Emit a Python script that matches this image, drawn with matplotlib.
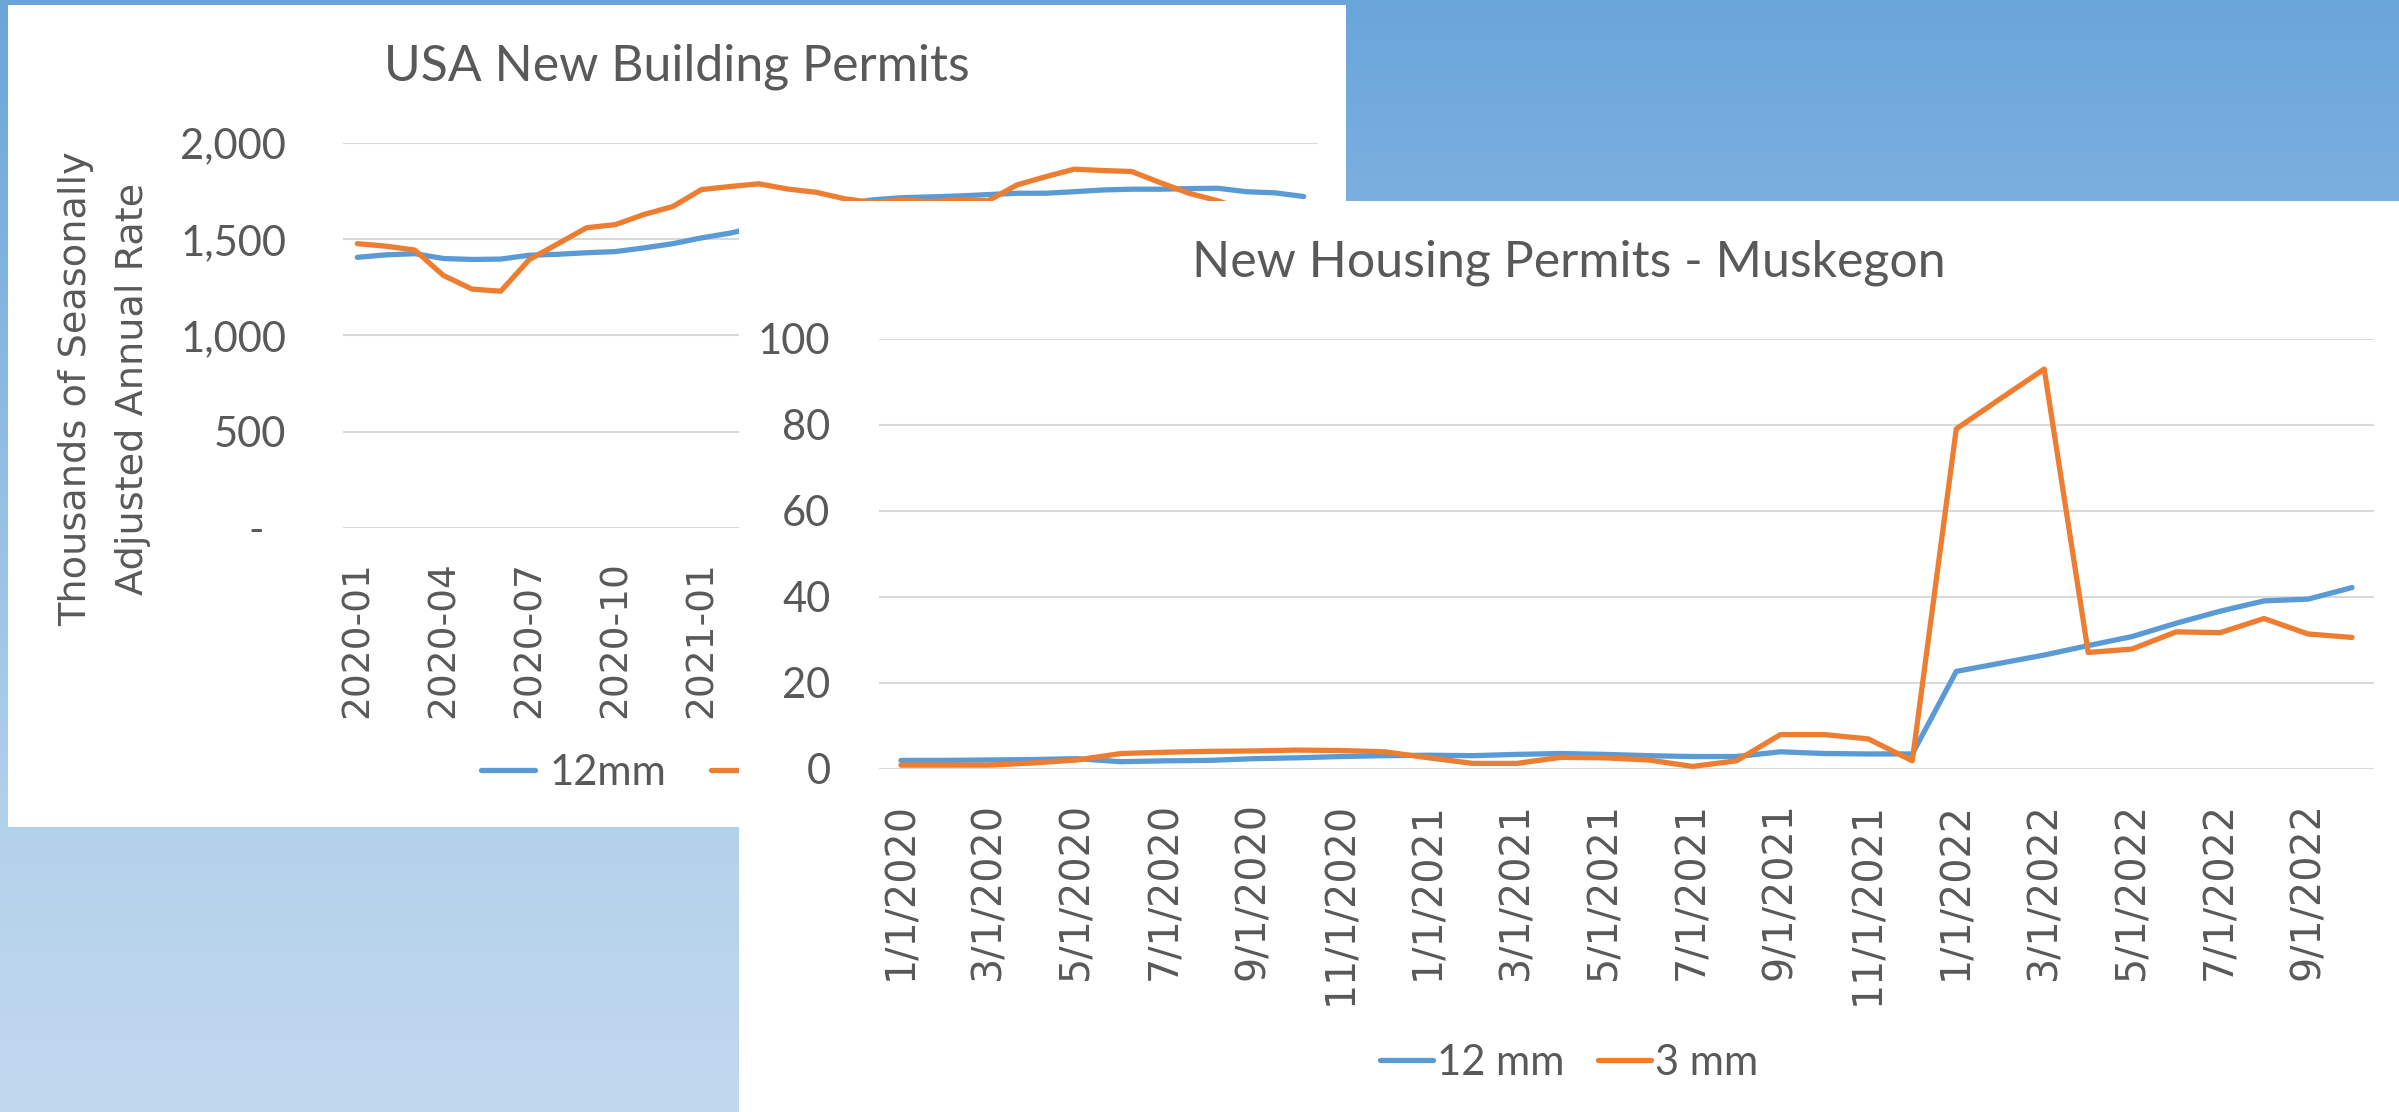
import matplotlib
matplotlib.use("Agg")
import matplotlib.pyplot as plt
from matplotlib.patches import Rectangle
import numpy as np
import pandas as pd

# months Jan 2020 .. Oct 2022
months = pd.date_range("2020-01-01", "2022-10-01", freq="MS")
us_labels = [f"{d.year}-{d.month:02d}" for d in months]
mk_labels = [f"{d.month}/1/{d.year}" for d in months]

# USA new building permits, thousands SAAR
us_12mm = [1406, 1419, 1425, 1400, 1395, 1397, 1417, 1422, 1430, 1436, 1455, 1477,
           1507, 1532, 1565, 1600, 1640, 1685, 1705, 1716, 1720, 1725, 1732, 1739,
           1739, 1747, 1756, 1760, 1760, 1763, 1765, 1747, 1741, 1722]
us_3mm = [1477, 1464, 1444, 1312, 1241, 1230, 1395, 1477, 1560, 1576, 1629, 1670,
          1758, 1774, 1788, 1761, 1744, 1710, 1690, 1705, 1695, 1705, 1700, 1782,
          1825, 1864, 1857, 1852, 1794, 1739, 1700, 1650, 1600, 1560]
us_yticks = [0, 500, 1000, 1500, 2000]
us_yticklabels = ["-  ", "500", "1,000", "1,500", "2,000"]
# only the first labels are visible, the rest sit under the Muskegon panel
us_visible_months = 13

# Muskegon new housing permits
mk_12mm = [2.0, 2.0, 2.1, 2.2, 2.4, 1.7, 1.9, 2.0, 2.4, 2.6, 2.9, 3.1,
           3.2, 3.1, 3.4, 3.6, 3.4, 3.1, 2.9, 2.9, 4.0, 3.6, 3.5, 3.5,
           22.7, 24.6, 26.5, 28.7, 30.8, 33.9, 36.7, 39.1, 39.5, 42.2]
mk_3mm = [0.9, 0.9, 0.9, 1.4, 2.1, 3.6, 3.9, 4.1, 4.2, 4.4, 4.3, 4.0,
          2.6, 1.3, 1.3, 2.7, 2.6, 2.1, 0.6, 1.9, 8.0, 8.0, 7.0, 1.9,
          79.1, 86.1, 93.0, 27.1, 27.9, 31.9, 31.7, 35.0, 31.4, 30.6]
mk_yticks = [0, 20, 40, 60, 80, 100]

BLUE = '#5B9BD5'
ORANGE = '#ED7D31'
GRID = '#D9D9D9'
TXT = '#595959'
W, H = 2399, 1112

def fx(x):
    return x / W

def fy(y):
    return 1 - y / H

fig = plt.figure(figsize=(W / 100, H / 100), dpi=100)

# gradient background
bg = fig.add_axes([0, 0, 1, 1], zorder=0)
bg.axis('off')
stops = [0, 0.18, 0.74, 1.0]
cols = np.array([[106, 165, 218], [123, 175, 223], [178, 209, 235], [194, 216, 239]]) / 255
t = np.linspace(0, 1, H)
grad = np.stack([np.interp(t, stops, cols[:, k]) for k in range(3)], axis=1)
bg.imshow(grad[:, None, :], aspect='auto', extent=[0, 1, 0, 1])

# white panels
fig.add_artist(Rectangle((fx(8), fy(827)), (1346 - 8) / W, (827 - 5) / H,
                         transform=fig.transFigure, fc='white', ec='none', zorder=1))
fig.add_artist(Rectangle((fx(739), 0), (W - 739) / W, (1112 - 201) / H,
                         transform=fig.transFigure, fc='white', ec='none', zorder=3))

def style_axes(ax, yticks, yticklabels, xlabels, step, ypad, xsize, nlab=None):
    ax.set_facecolor('none')
    for s in ax.spines.values():
        s.set_visible(False)
    ax.set_xlim(-0.5, len(xlabels) - 0.5)
    ax.set_ylim(yticks[0], yticks[-1])
    ax.set_yticks(yticks)
    ax.set_yticklabels(yticklabels, family='Lato', fontsize=30, color=TXT)
    idx = list(range(0, nlab or len(xlabels), step))
    ax.set_xticks(idx)
    ax.set_xticklabels([xlabels[i] for i in idx], rotation=90, family='DejaVu Sans',
                       fontsize=xsize, color=TXT)
    ax.tick_params(axis='both', length=0)
    ax.tick_params(axis='y', pad=ypad)
    ax.tick_params(axis='x', pad=24)
    ax.yaxis.grid(True, color=GRID, linewidth=1.5)
    ax.set_axisbelow(True)

# ---- left chart: USA
ax1 = fig.add_axes([fx(343), fy(528), 975 / W, 385 / H], zorder=2)
x = np.arange(len(months))
ax1.plot(x, us_12mm, color=BLUE, lw=3.8, label='12mm', solid_capstyle='round')
ax1.plot(x, us_3mm, color=ORANGE, lw=3.8, label='3mm', solid_capstyle='round')
style_axes(ax1, us_yticks, us_yticklabels, us_labels, 3, 41, 27, us_visible_months)
ax1.legend(loc='center', bbox_to_anchor=(fx(677), fy(773)), bbox_transform=fig.transFigure,
           ncol=2, frameon=False, prop={'family': 'Lato', 'size': 30}, labelcolor=TXT,
           handlelength=1.3, handletextpad=0.36, columnspacing=1.07,
           borderpad=0, borderaxespad=0)
fig.text(fx(677), fy(80), "USA New Building Permits", ha='center', va='baseline',
         family='Lato', fontsize=36, color=TXT, zorder=2)
fig.text(fx(76), fy(389), "Thousands of Seasonally", rotation=90, ha='center', va='center',
         family='DejaVu Sans', fontsize=27.5, color=TXT, zorder=2)
fig.text(fx(133), fy(389), "Adjusted Annual Rate", rotation=90, ha='center', va='center',
         family='DejaVu Sans', fontsize=27.5, color=TXT, zorder=2)

# ---- right chart: Muskegon
ax2 = fig.add_axes([fx(879), fy(769), 1495 / W, 430 / H], zorder=4)
ax2.plot(x, mk_12mm, color=BLUE, lw=3.8, label='12 mm', solid_capstyle='round')
ax2.plot(x, mk_3mm, color=ORANGE, lw=3.8, label='3 mm', solid_capstyle='round')
style_axes(ax2, mk_yticks, [str(v) for v in mk_yticks], mk_labels, 2, 35, 28.5)
ax2.legend(loc='center', bbox_to_anchor=(fx(1569), fy(1063)), bbox_transform=fig.transFigure,
           ncol=2, frameon=False, prop={'family': 'Lato', 'size': 30}, labelcolor=TXT,
           handlelength=1.27, handletextpad=0.1, columnspacing=0.8,
           borderpad=0, borderaxespad=0)
fig.text(fx(1569), fy(277), "New Housing Permits - Muskegon", ha='center', va='baseline',
         family='Lato', fontsize=36, color=TXT, zorder=5)

fig.savefig('out.png', dpi=100)
